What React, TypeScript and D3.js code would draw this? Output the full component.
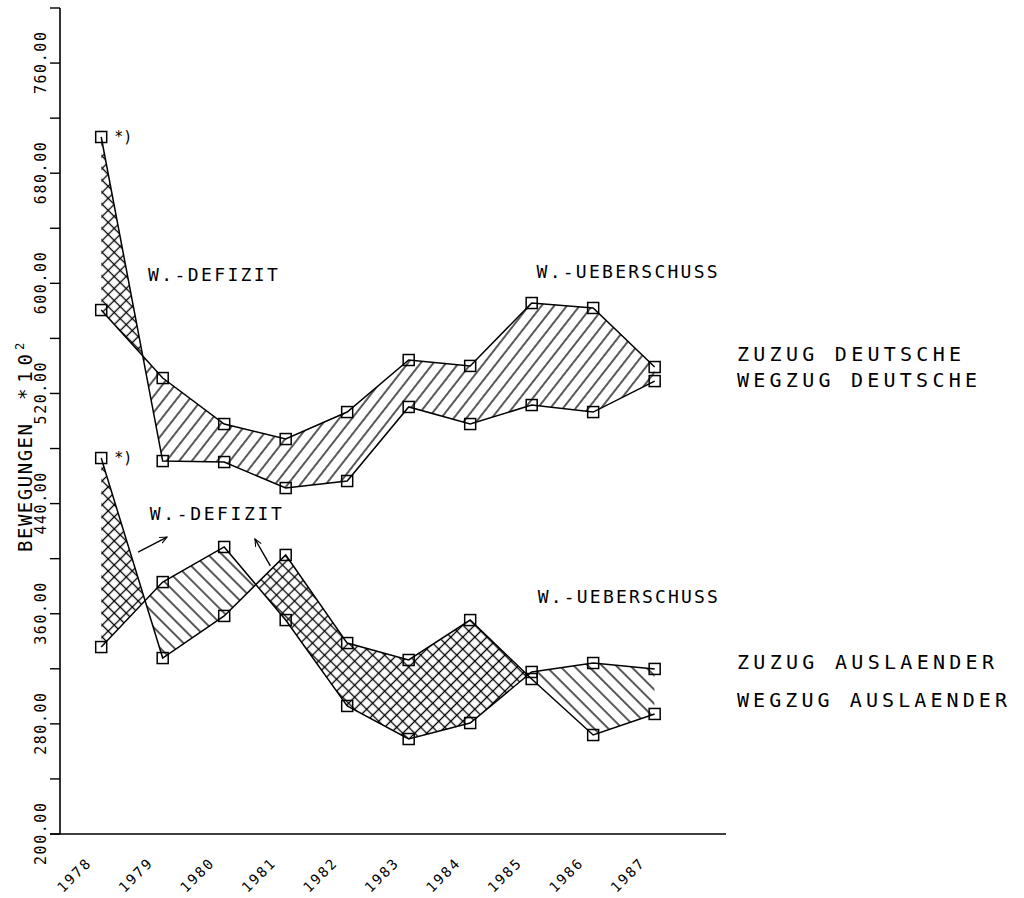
import React from 'react';
import * as d3 from 'd3';

// Wanderungsbewegungen 1978-1987, Werte *10^2
const years = [1978, 1979, 1980, 1981, 1982, 1983, 1984, 1985, 1986, 1987];
const zuzugDeutsche = [580.6, 531.2, 497.8, 486.9, 506.5, 544.3, 540.0, 585.7, 582.1, 539.2];
const wegzugDeutsche = [706.3, 470.9, 470.2, 451.3, 456.4, 510.2, 497.8, 511.6, 506.5, 529.0];
const zuzugAuslaender = [335.8, 383.0, 408.5, 355.4, 293.0, 269.0, 280.6, 317.7, 324.2, 319.9];
const wegzugAuslaender = [473.1, 327.8, 358.4, 402.7, 338.7, 326.4, 355.4, 312.6, 271.9, 287.2];

const yTicks = d3.range(200, 801, 40);
const yLabels = d3.range(200, 761, 80);

const W = 1024;
const H = 898;
const FONT = '"DejaVu Sans Mono", "Liberation Mono", monospace';

const x = d3.scaleLinear().domain([1977.33, 1988.16]).range([60, 726]);
const y = d3.scaleLinear().domain([200, 800]).range([834, 8]);

type Pt = { yr: number; zu: number; weg: number };

const Band: React.FC<{ id: string; zu: number[]; weg: number[]; surplusFill: string }> = ({ id, zu, weg, surplusFill }) => {
    const data: Pt[] = years.map((yr, i) => ({ yr, zu: zu[i], weg: weg[i] }));
    const between = d3.area<Pt>().x(d => x(d.yr)).y0(d => y(d.weg)).y1(d => y(d.zu));
    const above = d3.area<Pt>().x(d => x(d.yr)).y0(d => y(d.weg)).y1(() => y(800));
    const below = d3.area<Pt>().x(d => x(d.yr)).y0(d => y(d.weg)).y1(() => y(200));
    const lineZu = d3.line<Pt>().x(d => x(d.yr)).y(d => y(d.zu));
    const lineWeg = d3.line<Pt>().x(d => x(d.yr)).y(d => y(d.weg));

    return (
        <g>
            <defs>
                <clipPath id={`${id}-above`}><path d={above(data) || ''} /></clipPath>
                <clipPath id={`${id}-below`}><path d={below(data) || ''} /></clipPath>
            </defs>
            {/* Ueberschuss: Zuzug ueber Wegzug */}
            <path d={between(data) || ''} fill={surplusFill} clipPath={`url(#${id}-above)`} />
            {/* Defizit: Wegzug ueber Zuzug */}
            <path d={between(data) || ''} fill="url(#cross)" clipPath={`url(#${id}-below)`} />
            <path d={lineZu(data) || ''} fill="none" stroke="#000" strokeWidth={1.5} />
            <path d={lineWeg(data) || ''} fill="none" stroke="#000" strokeWidth={1.5} />
            {data.map(d => (
                <g key={d.yr}>
                    <rect x={x(d.yr) - 5.5} y={y(d.zu) - 5.5} width={11} height={11} fill="none" stroke="#000" strokeWidth={1.5} />
                    <rect x={x(d.yr) - 5.5} y={y(d.weg) - 5.5} width={11} height={11} fill="none" stroke="#000" strokeWidth={1.5} />
                </g>
            ))}
            <text x={x(years[0]) + 13} y={y(weg[0]) + 5} fontFamily={FONT} fontSize={15}>*)</text>
        </g>
    );
};

const Label: React.FC<{ px: number; py: number; len: number; size: number; children: string }> = ({ px, py, len, size, children }) => (
    <text x={px} y={py} fontFamily={FONT} fontSize={size} textLength={len} lengthAdjust="spacing">{children}</text>
);

const App: React.FC = () => {
    return (
        <svg width={W} height={H} viewBox={`0 0 ${W} ${H}`} style={{ position: 'absolute', left: 0, top: 0, background: '#fff' }}>
            <defs>
                <pattern id="hatchD" patternUnits="userSpaceOnUse" width={10} height={10} patternTransform="rotate(38)">
                    <line x1={5} y1={0} x2={5} y2={10} stroke="#000" strokeWidth={1.3} />
                </pattern>
                <pattern id="hatchA" patternUnits="userSpaceOnUse" width={10} height={10} patternTransform="rotate(-45)">
                    <line x1={5} y1={0} x2={5} y2={10} stroke="#000" strokeWidth={1.3} />
                </pattern>
                <pattern id="cross" patternUnits="userSpaceOnUse" width={8.5} height={8.5} patternTransform="rotate(45)">
                    <line x1={4.25} y1={0} x2={4.25} y2={8.5} stroke="#000" strokeWidth={1.3} />
                    <line x1={0} y1={4.25} x2={8.5} y2={4.25} stroke="#000" strokeWidth={1.3} />
                </pattern>
                <marker id="arrow" viewBox="0 0 10 10" refX={9} refY={5} markerWidth={8} markerHeight={8} orient="auto" markerUnits="userSpaceOnUse">
                    <path d="M0,1 L9,5 L0,9" fill="none" stroke="#000" strokeWidth={1.4} />
                </marker>
            </defs>

            {/* Achsen */}
            <line x1={x.range()[0]} y1={y(800)} x2={x.range()[0]} y2={y(200)} stroke="#000" strokeWidth={1.6} />
            <line x1={x.range()[0] - 10} y1={y(200)} x2={x.range()[1]} y2={y(200)} stroke="#000" strokeWidth={1.6} />
            {yTicks.map(t => (
                <line key={t} x1={x.range()[0] - 10} y1={y(t)} x2={x.range()[0]} y2={y(t)} stroke="#000" strokeWidth={1.4} />
            ))}
            {yLabels.map(t => (
                <text key={t} transform={`translate(${x.range()[0] - 14},${y(t)}) rotate(-90)`} textAnchor="middle"
                      fontFamily={FONT} fontSize={15} textLength={62} lengthAdjust="spacing">{t.toFixed(2)}</text>
            ))}
            {years.map(yr => (
                <text key={yr} transform={`translate(${x(yr) - 10},${y(200) + 31}) rotate(-45)`} textAnchor="end"
                      fontFamily={FONT} fontSize={14} textLength={40} lengthAdjust="spacing">{yr}</text>
            ))}
            <text transform={`translate(32,552) rotate(-90)`} fontFamily={FONT} fontSize={19} textLength={128} lengthAdjust="spacing">BEWEGUNGEN</text>
            <text transform={`translate(32,400) rotate(-90)`} fontFamily={FONT} fontSize={19} textLength={46} lengthAdjust="spacing">*10</text>
            <text transform={`translate(24,350) rotate(-90)`} fontFamily={FONT} fontSize={12}>2</text>

            <Band id="deu" zu={zuzugDeutsche} weg={wegzugDeutsche} surplusFill="url(#hatchD)" />
            <Band id="aus" zu={zuzugAuslaender} weg={wegzugAuslaender} surplusFill="url(#hatchA)" />

            {/* Beschriftungen im Diagramm */}
            <Label px={x(1978.76)} py={y(602)} len={130} size={18}>W.-DEFIZIT</Label>
            <Label px={x(1985.08)} py={y(604)} len={181} size={18}>W.-UEBERSCHUSS</Label>
            <Label px={x(1978.79)} py={y(428)} len={132} size={18}>W.-DEFIZIT</Label>
            <Label px={x(1985.1)} py={y(368)} len={180} size={18}>W.-UEBERSCHUSS</Label>
            <line x1={x(1978.6)} y1={y(404.8)} x2={x(1979.07)} y2={y(415.7)} stroke="#000" strokeWidth={1.4} markerEnd="url(#arrow)" />
            <line x1={x(1980.75)} y1={y(394.7)} x2={x(1980.5)} y2={y(414.3)} stroke="#000" strokeWidth={1.4} markerEnd="url(#arrow)" />

            {/* Legende rechts */}
            <Label px={737} py={361} len={224} size={20}>ZUZUG DEUTSCHE</Label>
            <Label px={737} py={387} len={240} size={20}>WEGZUG DEUTSCHE</Label>
            <Label px={737} py={669} len={257} size={20}>ZUZUG AUSLAENDER</Label>
            <Label px={737} py={707} len={270} size={20}>WEGZUG AUSLAENDER</Label>
        </svg>
    );
};

export default App;
